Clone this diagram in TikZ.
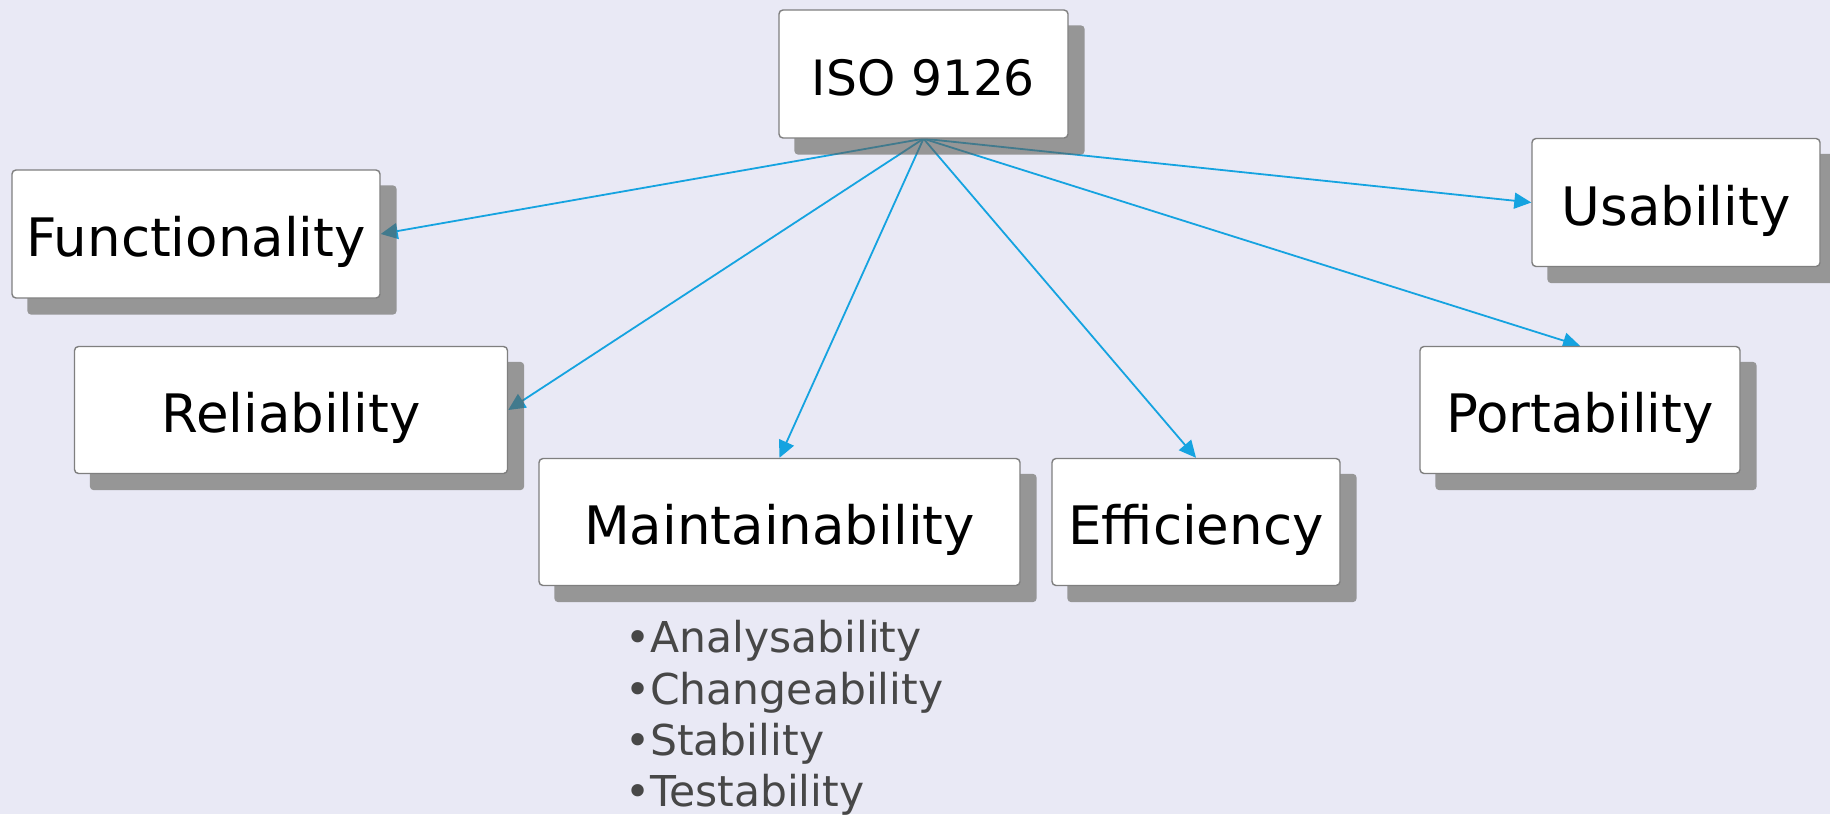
\documentclass[tikz,border=0pt]{standalone}
\usepackage{fontspec}
\setmainfont{DejaVu Sans}
\usetikzlibrary{arrows.meta,calc}
\definecolor{bgc}{HTML}{E9E9F5}
\definecolor{boxborder}{HTML}{7F7F7F}
\definecolor{arrowc}{HTML}{15A3E0}
\definecolor{subtext}{HTML}{474747}
\definecolor{shadowc}{RGB}{95,95,87}
\pgfdeclarelayer{bg}
\pgfdeclarelayer{arrowlayer}
\pgfdeclarelayer{shadowlayer}
\pgfsetlayers{bg,arrowlayer,shadowlayer,main}
\tikzset{
  qbox/.style={draw=boxborder, line width=1.4pt, fill=white, rounded corners=4pt,
    inner sep=0pt, font=\fontsize{53}{60}\selectfont, text=black,
    text height=45pt, text depth=0pt},
  qarrow/.style={draw=arrowc, line width=1.8pt, -{Triangle[length=17pt,width=16pt]}, fill=arrowc},
  qshadow/.style={fill=shadowc, fill opacity=0.6, rounded corners=4pt},
  subitem/.style={anchor=base west, inner sep=0pt, text=subtext, font=\fontsize{42.5}{48}\selectfont}
}
\begin{document}
\begin{tikzpicture}[x=1pt,y=-1pt]
\begin{pgfonlayer}{bg}
\fill[bgc] (0,0) rectangle (1830,814);
\end{pgfonlayer}
\useasboundingbox (0,0) rectangle (1830,814);

\node[qbox, minimum width=289pt, minimum height=128pt, font=\fontsize{48.7}{56}\selectfont, text height=43pt] (iso) at (923.5,74) {ISO 9126};
\node[qbox, minimum width=368pt, minimum height=128pt] (func) at (196,234) {Functionality};
\node[qbox, minimum width=433pt, minimum height=127pt] (rel) at (291,410) {Reliability};
\node[qbox, minimum width=481pt, minimum height=127pt] (main) at (779.5,522) {Maintainability};
\node[qbox, minimum width=288pt, minimum height=127pt] (eff) at (1196,522) {Efficiency};
\node[qbox, minimum width=320pt, minimum height=127pt] (port) at (1580,410) {Portability};
\node[qbox, minimum width=288pt, minimum height=128pt] (usa) at (1676,202.5) {Usability};

\begin{pgfonlayer}{shadowlayer}
\foreach \n in {iso,func,rel,main,eff,port,usa}{
  \fill[qshadow] ($(\n.north west)+(16,16)$) rectangle ($(\n.south east)+(16,16)$);
}
\end{pgfonlayer}

\begin{pgfonlayer}{arrowlayer}
\draw[qarrow] (iso.south) -- (func.east);
\draw[qarrow] (iso.south) -- (rel.east);
\draw[qarrow] (iso.south) -- (main.north);
\draw[qarrow] (iso.south) -- (eff.north);
\draw[qarrow] (iso.south) -- (port.north);
\draw[qarrow] (iso.south) -- (usa.west);
\end{pgfonlayer}

\node[subitem] (s1) at (625,652.5) {•Analysability};
\node[subitem] (s2) at (625,704) {•Changeability};
\node[subitem] (s3) at (625,755.5) {•Stability};
\node[subitem] (s4) at (625,806.5) {•Testability};
\end{tikzpicture}
\end{document}
